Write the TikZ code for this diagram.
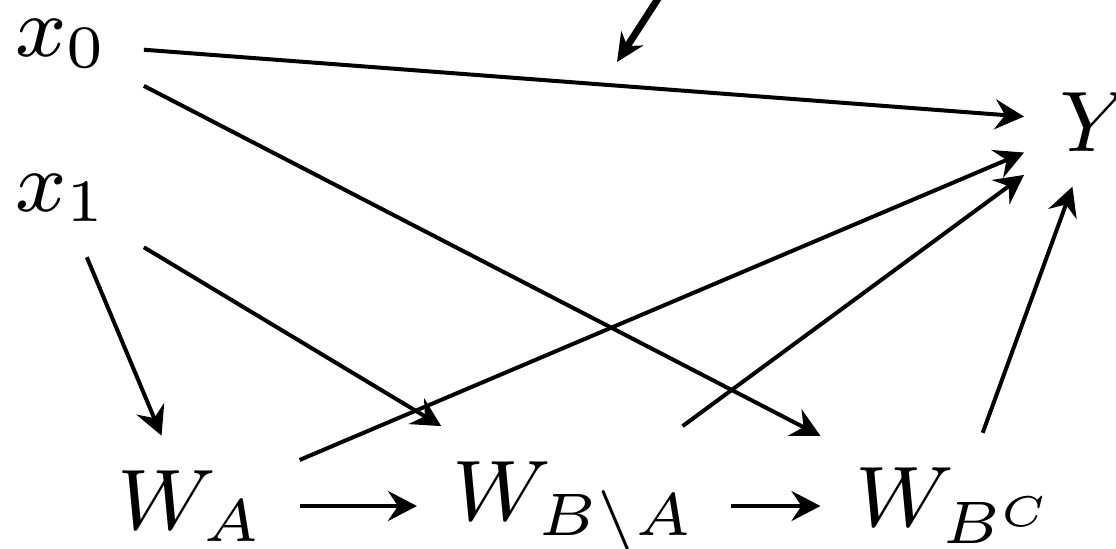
\RequirePackage{fix-cm}
\documentclass[tikz,border=0pt]{standalone}
\DeclareMathSizes{8.6}{8.6}{6}{4.3}
\usetikzlibrary{arrows.meta}
\tikzset{
 var/.style={inner sep=.3333em,font=\fontsize{8.6}{10.3}\selectfont},
 edge/.style={line width=.4pt,-{Stealth[length=2.9pt,width=3pt,inset=1pt]}},
 pointer/.style={line width=.7pt,-{Stealth[length=2.8pt,width=2.6pt,inset=.9pt]}}
}
\begin{document}
\begin{tikzpicture}[x=.1pt,y=-.1pt]
\useasboundingbox (0,0) rectangle (1116,548);
\node[var] (x0) at (62,43.5) {$x_0$};
\node[var] (x1) at (62,198) {$x_1$};
\node[var] (WA) at (191,506) {$W_A$};
\node[var] (WBA) at (574,506) {$W_{B\setminus A}$};
\node[var] (WBC) at (956,506) {$W_{B^C}$};
\node[var] (Y) at (1096,122) {$Y$};
\coordinate (from) at (683,-40);
\coordinate (tip) at (617,62);
\draw[pointer] (from) -- (tip);
\draw[edge] (x0) -- (Y);
\draw[edge] (x0) -- (WBC);
\draw[edge] (x1) -- (WA);
\draw[edge] (x1) -- (WBA);
\draw[edge] (WA) -- (WBA);
\draw[edge] (WA) -- (Y);
\draw[edge] (WBA) -- (WBC);
\draw[edge] (WBA) -- (Y);
\draw[edge] (WBC) -- (Y);
\end{tikzpicture}
\end{document}
